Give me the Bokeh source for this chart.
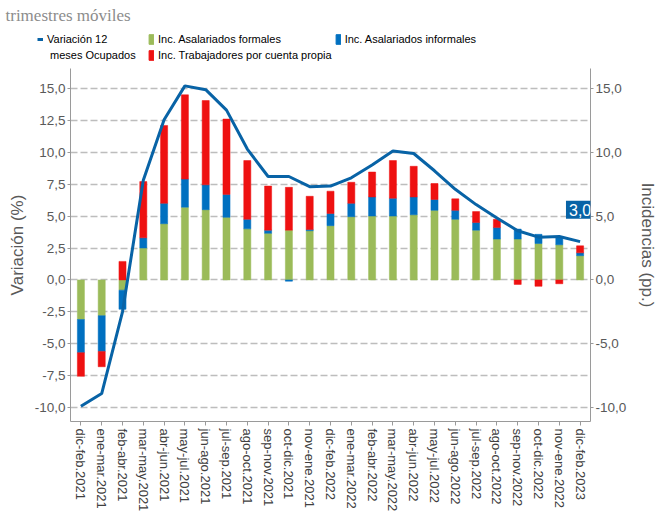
import numpy as np
from bokeh.plotting import figure
from bokeh.layouts import column
from bokeh.models import (Range1d, LinearAxis, FactorRange, Legend, LegendItem, Label,
                          FixedTicker, CustomJSTickFormatter)
from bokeh.embed import file_html
from bokeh.resources import INLINE

categories = ["dic-feb.2021", "ene-mar.2021", "feb-abr.2021", "mar-may.2021", "abr-jun.2021",
              "may-jul.2021", "jun-ago.2021", "jul-sep.2021", "ago-oct.2021", "sep-nov.2021",
              "oct-dic.2021", "nov-ene.2021", "dic-feb.2022", "ene-mar.2022", "feb-abr.2022",
              "mar-may.2022", "abr-jun.2022", "may-jul.2022", "jun-ago.2022", "jul-sep.2022",
              "ago-oct.2022", "sep-nov.2022", "oct-dic.2022", "nov-ene.2022", "dic-feb.2023"]

formales = [-3.1, -2.8, -0.8, 2.5, 4.4, 5.7, 5.5, 4.9, 4.0, 3.65, 3.9, 3.85, 4.25, 4.95, 5.0,
            5.0, 5.1, 5.45, 4.75, 3.9, 3.2, 3.2, 2.85, 2.75, 1.9]
informales = [-2.6, -2.8, -1.5, 0.8, 1.6, 2.2, 1.95, 1.8, 0.75, 0.25, -0.1, 0.1, 0.95, 1.05, 1.5,
              1.4, 1.4, 0.85, 0.7, 0.6, 0.9, 0.78, 0.72, 0.6, 0.22]
cuenta_propia = [-1.85, -1.2, 1.45, 4.4, 6.1, 6.6, 6.6, 5.9, 4.6, 3.45, 3.35, 2.6, 1.75, 1.65, 1.95,
                 2.95, 2.4, 1.25, 0.9, 0.85, 0.65, -0.35, -0.5, -0.3, 0.55]
variacion = [-9.9, -8.9, -2.5, 7.8, 12.55, 15.2, 14.9, 13.3, 10.25, 8.1, 8.1, 7.3, 7.35, 8.0, 9.0,
             10.1, 9.9, 8.55, 7.1, 5.9, 4.85, 3.85, 3.35, 3.4, 3.0]

left_ticks = [-10, -7.5, -5, -2.5, 0, 2.5, 5, 7.5, 10, 12.5, 15]
right_ticks = [-10, -5, 0, 5, 10, 15]

GREEN = "#9bbb59"
BLUE = "#0070c0"
RED = "#ee1111"
LINE = "#0863a6"
TXT = "#595959"
SANS = "Liberation Sans, Arial"

# ---------------- header (subtitle + legend) ----------------
# its glyphs use the real series but lie outside its (empty) y window; only the legend shows
HW, HH = 660, 62
head = figure(width=HW, height=HH, x_range=FactorRange(factors=categories),
              y_range=Range1d(1000, 1001), output_backend="svg", toolbar_location=None,
              min_border_left=0, min_border_right=0, min_border_top=0, min_border_bottom=0)
head.frame_align = False
head.axis.visible = False
head.grid.visible = False
head.outline_line_color = None
head.background_fill_color = "white"
head.border_fill_color = "white"

lg_line = head.line(x=categories, y=variacion, line_width=3, line_color=LINE)
lg_blank = head.line(x=categories, y=variacion, line_alpha=0)
lg_form = head.vbar(x=categories, top=formales, width=0.34, fill_color=GREEN, line_color=GREEN)
lg_inf = head.vbar(x=categories, top=informales, width=0.34, fill_color=BLUE, line_color=BLUE)
lg_prop = head.vbar(x=categories, top=cuenta_propia, width=0.34, fill_color=RED, line_color=RED)

legend = Legend(items=[LegendItem(label="Variación 12", renderers=[lg_line]),
                       LegendItem(label=" meses Ocupados", renderers=[lg_blank]),
                       LegendItem(label="Inc. Asalariados formales", renderers=[lg_form]),
                       LegendItem(label="Inc. Trabajadores por cuenta propia", renderers=[lg_prop]),
                       LegendItem(label="Inc. Asalariados informales", renderers=[lg_inf])],
                orientation="vertical", nrows=2, location=(37, 1),
                padding=0, margin=0, spacing=3, label_height=13, label_width=98,
                glyph_height=12, glyph_width=6, label_standoff=4,
                border_line_color=None, background_fill_alpha=0,
                label_text_font=SANS, label_text_font_size="11px", label_text_color="black")
head.add_layout(legend, "center")

head.add_layout(Label(x=5, y=HH - 15, x_units="screen", y_units="screen",
                      text="trimestres móviles", text_font="Liberation Serif",
                      text_font_size="17px", text_color="#8c8c8c", text_baseline="alphabetic"))

# ---------------- main chart ----------------
W, H = 660, 452
ML, MR, MT, MB = 70, 66, 6, 91
ymin, ymax = -11.09, 16.56

p = figure(x_range=FactorRange(factors=categories), y_range=Range1d(ymin, ymax),
           width=W, height=H, output_backend="svg", toolbar_location=None,
           min_border_left=ML, min_border_right=MR, min_border_top=MT, min_border_bottom=MB)
p.frame_align = False
p.outline_line_color = None
p.background_fill_color = "white"
p.border_fill_color = "white"

# stacked bars: positives and negatives accumulate separately
n = len(categories)
pos = np.zeros(n)
neg = np.zeros(n)
for vals, col in [(formales, GREEN), (informales, BLUE), (cuenta_propia, RED)]:
    v = np.array(vals, dtype=float)
    bottom = np.where(v >= 0, pos, neg)
    top = bottom + v
    pos = np.where(v >= 0, top, pos)
    neg = np.where(v < 0, top, neg)
    p.vbar(x=categories, bottom=bottom, top=top, width=0.34,
           fill_color=col, line_color=col, line_width=0.5)

p.line(x=categories, y=variacion, line_width=3, line_color=LINE)

# grid
p.xgrid.visible = False
p.ygrid.ticker = FixedTicker(ticks=left_ticks)
p.ygrid.grid_line_color = "#bdbdbd"
p.ygrid.grid_line_width = 1.4
p.ygrid.grid_line_dash = "7 3"

fmt = CustomJSTickFormatter(code="return tick.toFixed(1).replace('.', ',');")

ya = p.yaxis[0]
ya.ticker = FixedTicker(ticks=left_ticks)
ya.formatter = fmt
ya.axis_label = "Variación (%)"

p.extra_y_ranges = {"inc": Range1d(ymin, ymax)}
ra = LinearAxis(y_range_name="inc", ticker=FixedTicker(ticks=right_ticks), formatter=fmt,
                axis_label="Incidencias (pp.)")
p.add_layout(ra, "right")

for ax, st in [(ya, 5), (ra, 9)]:
    ax.axis_line_color = "#9a9a9a"
    ax.major_tick_line_color = "#9a9a9a"
    ax.major_tick_out = 3
    ax.major_tick_in = 0
    ax.minor_tick_line_color = None
    ax.major_label_text_font = SANS
    ax.major_label_text_font_size = "13.5px"
    ax.major_label_text_color = TXT
    ax.major_label_standoff = 2
    ax.axis_label_text_font = SANS
    ax.axis_label_text_font_size = "17px"
    ax.axis_label_text_font_style = "normal"
    ax.axis_label_text_color = TXT
    ax.axis_label_standoff = st

xa = p.xaxis[0]
xa.axis_line_color = "#9a9a9a"
xa.major_tick_line_color = "#9a9a9a"
xa.major_tick_out = 4
xa.major_tick_in = 0
xa.major_label_orientation = "vertical"
xa.major_label_text_font = SANS
xa.major_label_text_font_size = "13px"
xa.major_label_text_color = "#404040"
xa.major_label_standoff = 3

# end value label
p.add_layout(Label(x=n - 0.5, y=variacion[-1] + 2.5, text=f"{variacion[-1]:.1f}".replace(".", ","),
                   text_align="center", text_baseline="middle", text_color="white",
                   text_font=SANS, text_font_size="16px",
                   background_fill_color=LINE, padding=3))

open("out.html", "w").write(file_html(column(head, p), INLINE))
